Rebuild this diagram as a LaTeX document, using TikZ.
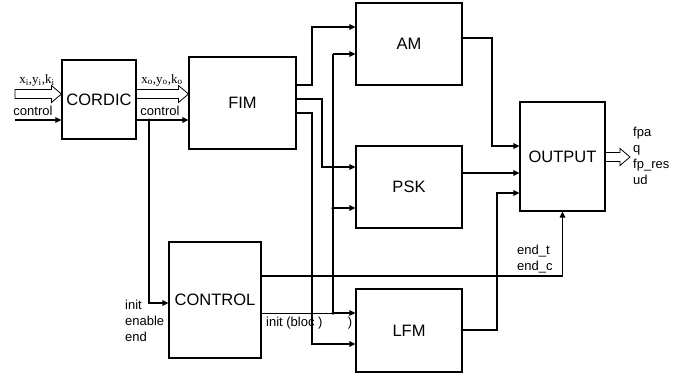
\documentclass[tikz,border=0pt]{standalone}
\usepackage{fontspec}
\setmainfont{Liberation Sans}
\newfontfamily\serifface{Liberation Serif}
\usetikzlibrary{arrows.meta, calc}

\newcommand{\hollowarrow}[2]{%
  \draw[hollow] ($(#1)+(0,-4.5)$) -- ($(#2)+(-10,-4.5)$) -- ($(#2)+(-10,-8.5)$) -- (#2)
    -- ($(#2)+(-10,8.5)$) -- ($(#2)+(-10,4.5)$) -- ($(#1)+(0,4.5)$) -- cycle;}

\begin{document}
\begin{tikzpicture}[x=1pt, y=-1pt,
    block/.style={draw, line width=1.1pt, inner sep=0pt, font=\fontsize{16.5}{18}\selectfont},
    wire/.style={line width=1.5pt, -{Triangle[length=6pt, width=5.5pt]}},
    thinwire/.style={line width=0.8pt},
    hollow/.style={line width=0.8pt},
    lbl/.style={font=\fontsize{13}{16}\selectfont, inner sep=0pt, align=left},
    joint/.style={circle, fill, inner sep=0pt, minimum size=3.5pt}]
  \useasboundingbox (0,0) rectangle (693,378);

  \node[block, minimum width=74pt, minimum height=79pt] (cordic) at (99,99.5) {CORDIC};
  \node[block, minimum width=107pt, minimum height=92pt] (fim) at (242.5,103) {FIM};
  \node[block, minimum width=92pt, minimum height=116pt] (control) at (215,300) {CONTROL};
  \node[block, minimum width=106pt, minimum height=82pt] (am) at (409,44) {AM};
  \node[block, minimum width=106pt, minimum height=82pt] (psk) at (409,187) {PSK};
  \node[block, minimum width=106pt, minimum height=83pt] (lfm) at (409,330.5) {LFM};
  \node[block, minimum width=85pt, minimum height=109pt] (output) at (562.5,156.5) {OUTPUT};

  \coordinate (datain) at (15,94);
  \coordinate (ctlin) at (15,120);
  \coordinate (dataout) at (630,157);
  \coordinate (cordicdata) at (cordic.west|-datain);
  \coordinate (cordicout) at (cordic.east|-datain);
  \coordinate (fimdata) at (fim.west|-datain);
  \coordinate (outdata) at (output.east|-dataout);
  \coordinate (ctlsplit) at (149,120);
  \coordinate (blocsplit) at (333,313);
  \coordinate (psksplit) at (333,208);

  \hollowarrow{datain}{cordicdata}
  \hollowarrow{cordicout}{fimdata}
  \hollowarrow{outdata}{dataout}

  \draw[wire] (ctlin) -- (cordic.west|-ctlin);
  \draw[wire] (cordic.east|-ctlin) -- (fim.west|-ctlin);
  \draw[wire] (ctlsplit) |- (control.west|-0,303);

  \draw[wire] (fim.east|-0,85) -| (312,27) -- (am.west|-0,27);
  \draw[wire] (fim.east|-0,99) -| (322,167) -- (psk.west|-0,167);
  \draw[wire] (fim.east|-0,113) -| (312,344) -- (lfm.west|-0,344);

  \draw[thinwire] (control.east|-blocsplit) -- (blocsplit);
  \draw[line width=1.5pt] (blocsplit) -- (333,54);
  \draw[wire] (333,54) -- (am.west|-0,54);
  \draw[wire] (psksplit) -- (psk.west|-psksplit);
  \draw[wire] (blocsplit) -- (lfm.west|-blocsplit);

  \draw[wire] (am.east|-0,38) -| (492,146) -- (output.west|-0,146);
  \draw[wire] (psk.east|-0,173) -- (output.west|-0,173);
  \draw[wire] (lfm.east|-0,330) -| (497,193) -- (output.west|-0,193);
  \draw[wire] (control.east|-0,276) -| (output.south);

  \node[joint] at (ctlsplit) {};
  \node[joint] at (blocsplit) {};
  \node[joint] at (psksplit) {};

  \node[lbl, font=\fontsize{13}{16}\serifface] (inlabel) at (37,80) {x\textsubscript{i},y\textsubscript{i},k\textsubscript{i}};
  \node[lbl, font=\fontsize{13}{16}\serifface] (outlabel) at (162,80) {x\textsubscript{o},y\textsubscript{o},k\textsubscript{o}};
  \node[lbl] (ctlinlabel) at (33,111) {control};
  \node[lbl] (ctloutlabel) at (160,111) {control};
  \node[lbl, anchor=west] (ctlsignals) at (125,321) {init\\enable\\end};
  \node[lbl, anchor=west] (bloclabel) at (266,323) {init (bloc )};
  \node[lbl] (blocparen) at (350,323) {)};
  \node[lbl, anchor=west] (endlabel) at (517,259) {end\_t\\end\_c};
  \node[lbl, anchor=west] (outlabels) at (633,156) {fpa\\q\\fp\_res\\ud};
\end{tikzpicture}
\end{document}
